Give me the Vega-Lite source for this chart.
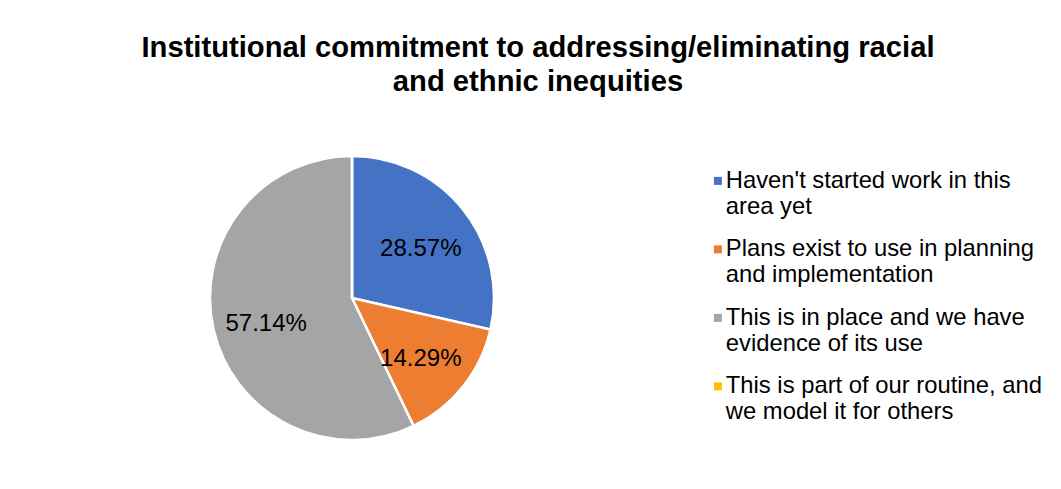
{
  "$schema": "https://vega.github.io/schema/vega-lite/v6.json",
  "width": 704,
  "height": 284,
  "padding": {"left": 0, "top": 33, "right": 0, "bottom": 0},
  "autosize": {"type": "pad"},
  "background": "white",
  "title": {
    "text": ["Institutional commitment to addressing/eliminating racial", "and ethnic inequities"],
    "font": "Liberation Sans",
    "fontSize": 29.2,
    "fontWeight": "bold",
    "color": "#000000",
    "lineHeight": 34,
    "anchor": "middle",
    "frame": "bounds",
    "offset": 54,
    "dx": 10.5
  },
  "data": {
    "values": [
      {"idx": 1, "category": "Haven't started work in this|area yet", "value": 28.57, "pct": "28.57%"},
      {"idx": 2, "category": "Plans exist to use in planning|and implementation", "value": 14.29, "pct": "14.29%"},
      {"idx": 3, "category": "This is in place and we have|evidence of its use", "value": 57.14, "pct": "57.14%"},
      {"idx": 4, "category": "This is part of our routine, and|we model it for others", "value": 0, "pct": "0.00%"}
    ]
  },
  "encoding": {
    "theta": {"field": "value", "type": "quantitative", "stack": true},
    "order": {"field": "idx", "type": "quantitative"},
    "color": {
      "field": "category",
      "type": "nominal",
      "sort": null,
      "scale": {
        "domain": [
          "Haven't started work in this|area yet",
          "Plans exist to use in planning|and implementation",
          "This is in place and we have|evidence of its use",
          "This is part of our routine, and|we model it for others"
        ],
        "range": ["#4472C4", "#ED7D31", "#A5A5A5", "#FFC000"]
      },
      "legend": {
        "title": null,
        "orient": "right",
        "offset": -11,
        "padding": 13,
        "symbolType": "square",
        "symbolSize": 64,
        "symbolStrokeWidth": 0,
        "labelFont": "Liberation Sans",
        "labelFontSize": 23.8,
        "labelColor": "#000000",
        "labelLimit": 400,
        "labelOffset": -4,
        "rowPadding": 17.5,
        "labelExpr": "split(datum.label, '|')",
        "encode": {"labels": {"update": {"lineHeight": {"value": 28}}}}
      }
    }
  },
  "layer": [
    {"mark": {"type": "arc", "outerRadius": 142, "stroke": "white", "strokeWidth": 2.5}},
    {
      "transform": [{"filter": "datum.value > 0"}],
      "mark": {"type": "text", "radius": 88, "dy": 6, "font": "Liberation Sans", "fontSize": 24, "color": "#000000"},
      "encoding": {"text": {"field": "pct", "type": "nominal"}, "color": {"value": "#000000"}}
    }
  ]
}
